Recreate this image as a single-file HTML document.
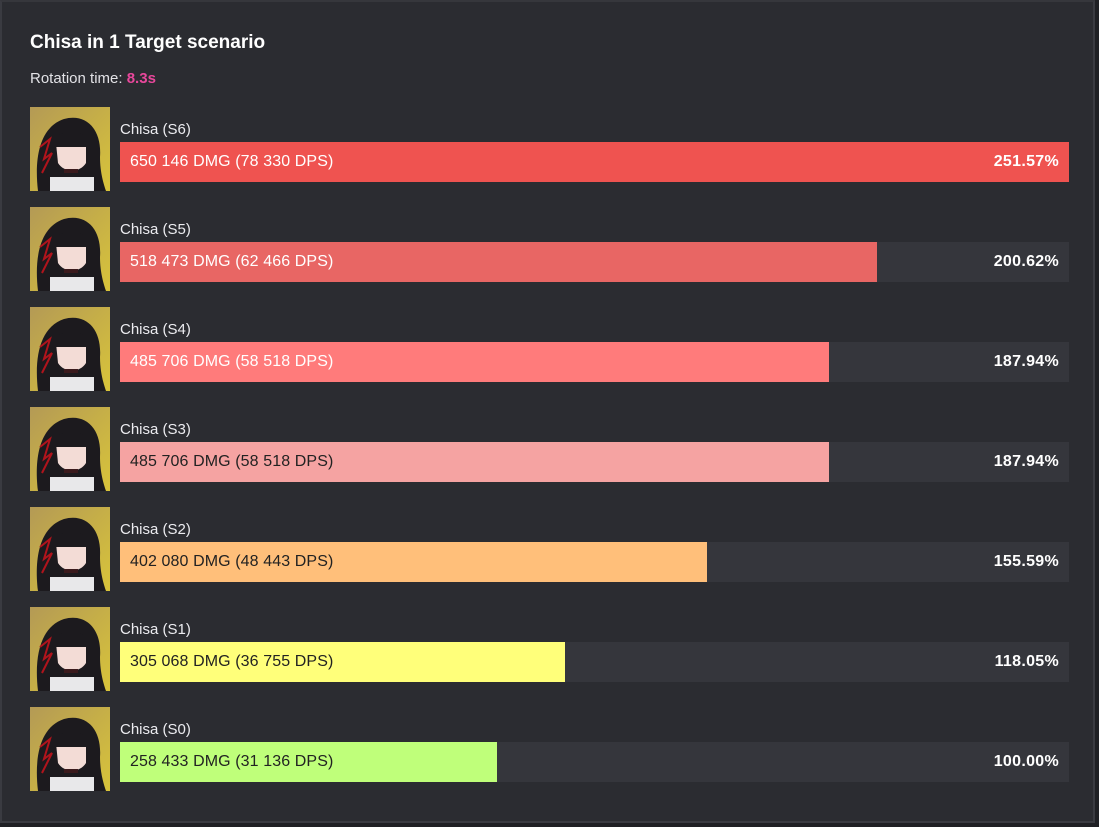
<!DOCTYPE html>
<html><head><meta charset="utf-8"><style>
html,body{margin:0;padding:0;width:1099px;height:827px;background:#1f2024;overflow:hidden;font-family:"Liberation Sans",sans-serif}
#card{position:absolute;left:0;top:0;width:1095px;height:823px;background:#2b2c31;border:2px solid #3a3b41;border-top-color:#36373c;box-sizing:border-box}
#title{position:absolute;left:28px;top:30px;color:#fff;font-weight:bold;font-size:19px}
#rot{position:absolute;left:28px;top:68px;color:#e2e2e6;font-size:15px}
#rot b{color:#e8479b}
.row{position:absolute;left:0;width:1099px;height:86px}
.av{position:absolute;left:30px;top:0;width:80px;height:84px}
.lbl{position:absolute;left:120px;top:14px;color:#ececf0;font-size:15px}
.track{position:absolute;left:120px;top:35px;width:949px;height:40px;background:#35363c}
.bar{position:absolute;left:0;top:0;height:40px}
.txt{position:absolute;left:10px;top:11px;font-size:16px;letter-spacing:0.1px}
.pct{position:absolute;right:10px;top:11px;font-size:16px;color:#fff;font-weight:bold;letter-spacing:0.3px}
</style></head><body>
<div id="card">
<div id="title">Chisa in 1 Target scenario</div>
<div id="rot">Rotation time: <b>8.3s</b></div>
</div>
<div id="rows"></div>
<script>
const labels=["Chisa (S6)","Chisa (S5)","Chisa (S4)","Chisa (S3)","Chisa (S2)","Chisa (S1)","Chisa (S0)"];
const dmg=[650146,518473,485706,485706,402080,305068,258433];
const dps=[78330,62466,58518,58518,48443,36755,31136];
const pcts=[251.57,200.62,187.94,187.94,155.59,118.05,100.00];
const colors=["#ef5350","#e86664","#ff7b7b","#f5a3a2","#ffbf7a","#ffff7a","#bfff7a"];
const textColors=["#fff","#fff","#fff","#222","#222","#222","#222"];
const fmt=n=>String(n).replace(/\B(?=(\d{3})+(?!\d))/g," ");
const maxP=Math.max(...pcts);
const xScale=v=>v/maxP*949;
const avatar='<svg width="80" height="84" viewBox="0 0 80 84"><defs><linearGradient id="g" x1="0" y1="0" x2="1" y2="1"><stop offset="0" stop-color="#b49a55"/><stop offset="1" stop-color="#d8c43a"/></linearGradient></defs><rect width="80" height="84" fill="url(#g)"/><path d="M8 84 C4 50 10 20 34 12 C56 6 72 22 70 50 C70 66 74 78 76 84 Z" fill="#1c1a1e"/><path d="M26 36 C30 30 52 30 56 38 L56 56 C50 66 34 66 28 56 Z" fill="#f3dcd6"/><path d="M22 34 C30 22 52 22 60 34 L60 40 L22 40 Z" fill="#1c1a1e"/><path d="M10 40 L20 32 L14 52 L22 46 L12 66" stroke="#b0141c" stroke-width="2" fill="none"/><rect x="20" y="70" width="44" height="14" fill="#e8e8ea"/><rect x="34" y="62" width="14" height="4" fill="#3a1a1c"/></svg>';
const host=document.getElementById('rows');
labels.forEach((l,i)=>{
 const r=document.createElement('div');r.className='row';r.style.top=(107+i*100)+'px';
 
 
 r.innerHTML='<div class="av">'+avatar+'</div><div class="lbl">'+l+'</div><div class="track"><div class="bar" style="width:'+xScale(pcts[i])+'px;background:'+colors[i]+'"></div><div class="txt" style="color:'+textColors[i]+'">'+fmt(dmg[i])+' DMG ('+fmt(dps[i])+' DPS)</div><div class="pct">'+pcts[i].toFixed(2)+'%</div></div>';
 host.appendChild(r);
 const av=r.querySelector('.av');
 
 
 const lb=r.querySelector('.lbl');
 
 
 const b=r.querySelector('.bar');
 
 
 const t=r.querySelector('.txt');
 
 
 const p=r.querySelector('.pct');
 
 
});
</script>
</body></html>
